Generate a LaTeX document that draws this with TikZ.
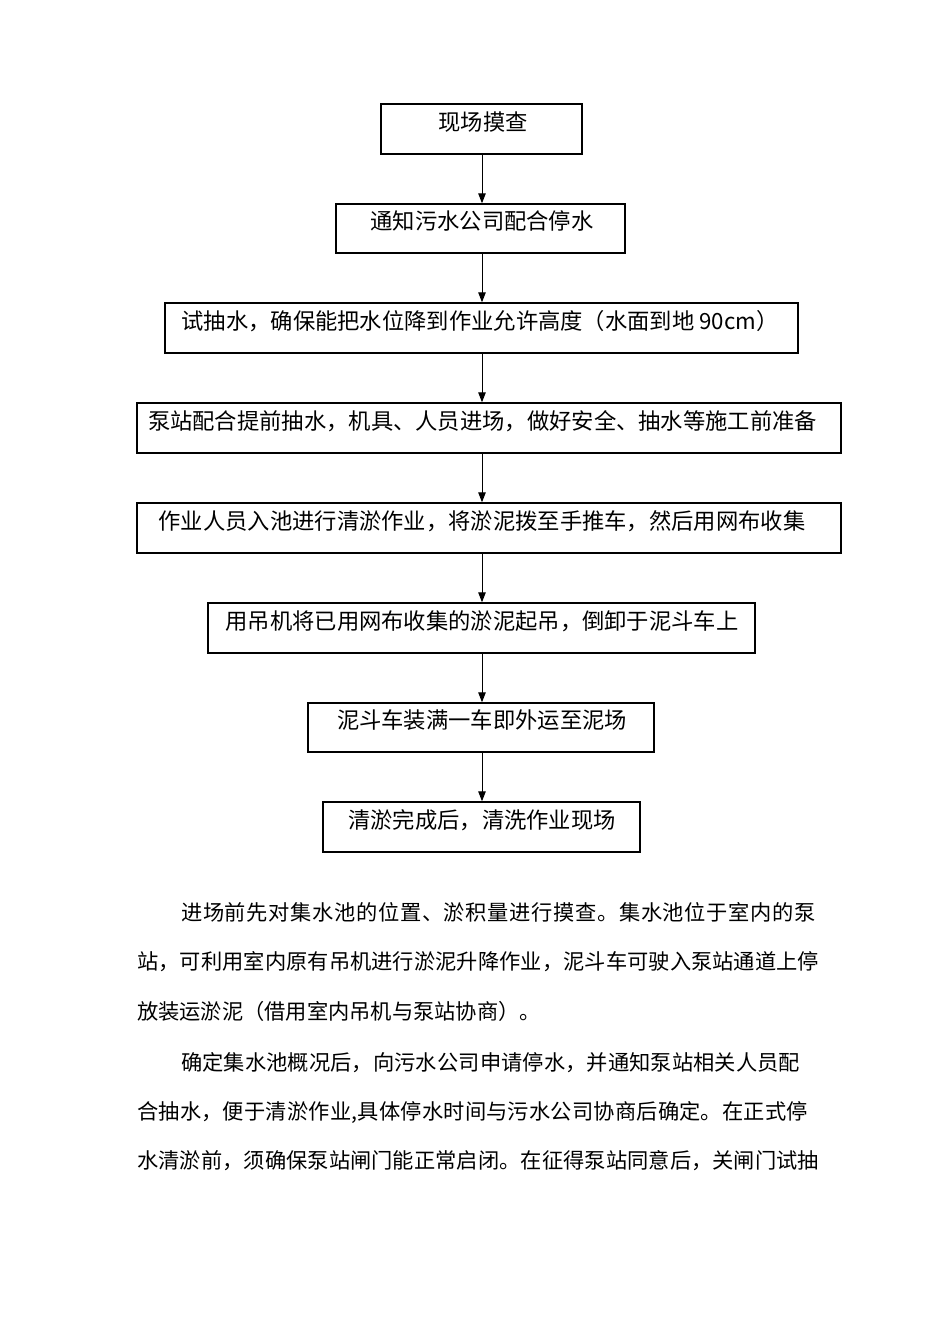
\documentclass[tikz,border=0pt]{standalone}
\usepackage{fontspec}
\newfontfamily\cjk{Noto Sans CJK SC}
\usetikzlibrary{arrows.meta,shadows}
\makeatletter
\def\spreadchars#1{\spreadA#1\relax}
\def\spreadA#1{#1\futurelet\spread@next\spreadB}
\def\spreadB{\ifx\spread@next\relax\expandafter\spreadEnd\else\expandafter\hskip\expandafter0pt\expandafter plus\expandafter1fil\expandafter\spreadA\fi}
\def\spreadEnd\relax{}
\makeatother
\newcommand{\jline}[2]{\makebox[#1pt][l]{\spreadchars{#2}}}
\begin{document}
\begin{tikzpicture}[x=1pt,y=-1pt,
  flowbox/.style={draw, line width=1.4pt, fill=white, inner sep=0pt,
    drop shadow={shadow xshift=1.2pt, shadow yshift=-1.2pt, fill=black, opacity=1}},
  boxtext/.style={anchor=base, inner sep=0pt, font=\cjk\fontsize{22.3}{26}\selectfont},
  flowarrow/.style={line width=1pt, -{Triangle[length=10pt,width=7.5pt]}},
  para/.style={anchor=base west, inner sep=0pt, font=\cjk\fontsize{21.25}{24}\selectfont}]
\fill[white] (0,0) rectangle (950,1344);
\useasboundingbox (0,0) rectangle (950,1344);
\coordinate (ax) at (482,0);
% boxes
\node[flowbox, minimum width=201pt, minimum height=50pt] (b1) at (481.5,129) {};
\node[flowbox, minimum width=289pt, minimum height=49pt] (b2) at (480.5,228.5) {};
\node[flowbox, minimum width=633pt, minimum height=50pt] (b3) at (481.5,328) {};
\node[flowbox, minimum width=704pt, minimum height=50pt] (b4) at (489,428) {};
\node[flowbox, minimum width=704pt, minimum height=50pt] (b5) at (489,528) {};
\node[flowbox, minimum width=547pt, minimum height=50pt] (b6) at (481.5,628) {};
\node[flowbox, minimum width=346pt, minimum height=49pt] (b7) at (481,727.5) {};
\node[flowbox, minimum width=317pt, minimum height=50pt] (b8) at (481.5,827) {};
% box texts
\node[boxtext] (t1) at (483,130) {现场摸查};
\node[boxtext] (t2) at (482,229) {通知污水公司配合停水};
\node[boxtext] (t3) at (480,329) {试抽水，确保能把水位降到作业允许高度（水面到地 90cm）};
\node[boxtext] (t4) at (482.5,429) {泵站配合提前抽水，机具、人员进场，做好安全、抽水等施工前准备};
\node[boxtext] (t5) at (482,529) {作业人员入池进行清淤作业，将淤泥拨至手推车，然后用网布收集};
\node[boxtext] (t6) at (482,629) {用吊机将已用网布收集的淤泥起吊，倒卸于泥斗车上};
\node[boxtext] (t7) at (482,728) {泥斗车装满一车即外运至泥场};
\node[boxtext] (t8) at (482,828) {清淤完成后，清洗作业现场};
% arrows
\draw[flowarrow] (b1.south -| ax) -- (b2.north -| ax);
\draw[flowarrow] (b2.south -| ax) -- (b3.north -| ax);
\draw[flowarrow] (b3.south -| ax) -- (b4.north -| ax);
\draw[flowarrow] (b4.south -| ax) -- (b5.north -| ax);
\draw[flowarrow] (b5.south -| ax) -- (b6.north -| ax);
\draw[flowarrow] (b6.south -| ax) -- (b7.north -| ax);
\draw[flowarrow] (b7.south -| ax) -- (b8.north -| ax);
% paragraph
\node[para] (p1) at (181,920) {\jline{635}{进场前先对集水池的位置、淤积量进行摸查。集水池位于室内的泵}};
\node[para] (p2) at (137,969) {\jline{682}{站，可利用室内原有吊机进行淤泥升降作业，泥斗车可驶入泵站通道上停}};
\node[para] (p3) at (137,1019) {\jline{398}{放装运淤泥（借用室内吊机与泵站协商）。}};
\node[para] (p4) at (181,1070) {\jline{619}{确定集水池概况后，向污水公司申请停水，并通知泵站相关人员配}};
\node[para] (p5) at (137,1119) {\jline{671}{合抽水，便于清淤作业,具体停水时间与污水公司协商后确定。在正式停}};
\node[para] (p6) at (137,1168) {\jline{682}{水清淤前，须确保泵站闸门能正常启闭。在征得泵站同意后，关闸门试抽}};
\end{tikzpicture}
\end{document}
